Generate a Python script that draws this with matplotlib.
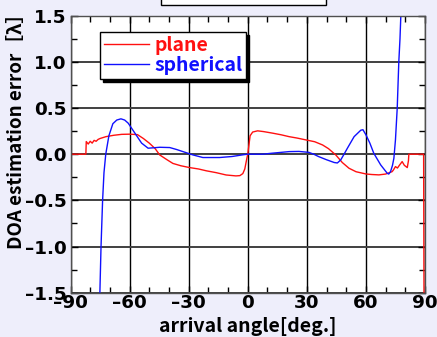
import numpy as np
import matplotlib
matplotlib.use('Agg')
import matplotlib.pyplot as plt
from matplotlib.patches import Rectangle
from matplotlib.ticker import MultipleLocator

plt.rcParams['font.family'] = ['Noto Sans CJK JP', 'DejaVu Sans']
plt.rcParams['font.weight'] = 'bold'

# plane wave model error
plane_deg = [-90, -82.2, -82, -81, -80, -79, -78, -77, -76, -75, -72, -68, -64, -60, -56,
             -53, -50, -47, -44.7, -41, -38, -34, -29.5, -25, -21, -16, -11, -6, -4,
             -2.5, -1.5, -0.5, 0, 1.2, 2.5, 5, 8, 12.6, 17, 21, 25, 29.5, 34, 38,
             41, 44.7, 48, 51.4, 55, 60, 63, 66.6, 70, 73.3, 74, 75, 76, 77, 78.4,
             79.5, 81, 81.6, 81.8, 85, 89.3, 89.5, 90]
plane_err = [0.0, 0.0, 0.137, 0.11, 0.14, 0.12, 0.15, 0.14, 0.16, 0.17, 0.19, 0.205, 0.215,
             0.217, 0.212, 0.17, 0.12, 0.06, -0.008, -0.06, -0.1, -0.125, -0.145, -0.16,
             -0.18, -0.2, -0.225, -0.235, -0.232, -0.21, -0.16, -0.05, 0.0, 0.2, 0.24,
             0.253, 0.245, 0.228, 0.21, 0.19, 0.175, 0.155, 0.135, 0.1, 0.06, -0.008,
             -0.09, -0.152, -0.19, -0.214, -0.22, -0.224, -0.215, -0.189, -0.17, -0.134,
             -0.15, -0.12, -0.08, -0.12, -0.145, -0.07, 0.0, 0.0, 0.0, -1.6, -1.6]

# spherical wave model error
sph_deg = [-75.2, -74.5, -73.7, -73, -72.1, -70.5, -68.5, -66.5, -64.4, -62.5, -60.7,
           -57.3, -53.9, -50.6, -47.5, -44.7, -39.6, -36, -32.9, -27.8, -22.8, -14.3,
           -8, -5.9, -2, 0, 7.6, 12, 16, 21, 26, 31, 33.5, 36, 40, 43.9, 45.5, 47.2,
           48.9, 50.6, 54, 57.4, 58.5, 60, 62, 64, 67.5, 70.8, 71.6, 72.5, 73.5, 74.2,
           75, 75.9, 76.7, 77.3, 77.9]
sph_err = [-1.6, -1.0, -0.5, -0.2, 0.0, 0.2, 0.33, 0.37, 0.383, 0.37, 0.336, 0.228,
           0.12, 0.065, 0.07, 0.075, 0.072, 0.05, 0.028, -0.008, -0.036, -0.036, -0.025,
           -0.018, -0.005, 0.0, 0.0, 0.01, 0.018, 0.028, 0.03, 0.02, 0.0, -0.026, -0.06,
           -0.09, -0.095, -0.062, 0.0, 0.065, 0.19, 0.26, 0.265, 0.21, 0.12, 0.01, -0.116,
           -0.206, -0.215, -0.189, -0.12, -0.044, 0.155, 0.5, 1.0, 1.25, 1.6]

x_ticks = [-90, -60, -30, 0, 30, 60, 90]
y_ticks = [-1.5, -1.0, -0.5, 0.0, 0.5, 1.0, 1.5]

bg = '#eeeefb'
fig = plt.figure(figsize=(4.37, 3.37), dpi=100, facecolor=bg)
ax = fig.add_axes([70.5 / 437, 1 - 292.7 / 337, 354.5 / 437, 277 / 337])
ax.set_facecolor('white')

ax.plot(plane_deg, plane_err, color='#ff1010', lw=1.0, label='plane')
ax.plot(sph_deg, sph_err, color='#1010ff', lw=1.0, label='spherical')

ax.set_xlim(-90, 90)
ax.set_ylim(-1.5, 1.5)
ax.xaxis.set_minor_locator(MultipleLocator(10))
ax.yaxis.set_minor_locator(MultipleLocator(0.25))
ax.set_xticks(x_ticks)
ax.set_xticklabels([f'{v:d}'.replace('-', '\u2013') for v in x_ticks],
                   family='DejaVu Sans', fontweight='bold', fontsize=13.2)
ax.set_yticks(y_ticks)
ax.set_yticklabels([f'{v:.1f}'.replace('-', '\u2013') for v in y_ticks],
                   family='DejaVu Sans', fontweight='bold', fontsize=13.2)
ax.tick_params(which='both', direction='in', top=True, right=True,
               width=1.0, color='black')
ax.tick_params(which='major', length=5)
ax.tick_params(which='minor', length=4)
ax.tick_params(axis='x', pad=1)
ax.tick_params(axis='y', pad=3)

ax.grid(True, axis='x', color='black', lw=1.0)
ax.grid(True, axis='y', color='#404040', lw=1.4)
ax.set_axisbelow(True)
for sp in ax.spines.values():
    sp.set_color('#505050')
    sp.set_linewidth(1.0)

ax.set_xlabel('arrival angle[deg.]', fontsize=14, fontweight='bold', va='top')
ax.xaxis.set_label_coords(0.5, -0.086)
ax.set_ylabel('DOA estimation error［λ］', fontsize=13.5, fontweight='bold', va='center')
ax.yaxis.set_label_coords(-0.153, 0.6)

leg = ax.legend(loc='upper left', bbox_to_anchor=(0.083, 0.94),
                prop={'weight': 'bold', 'size': 14}, frameon=True, fancybox=False,
                shadow={'color': 'black', 'alpha': 1}, framealpha=1, edgecolor='black',
                handlelength=2.3, handletextpad=0.3, borderpad=0.2, labelspacing=0.05,
                borderaxespad=0)
leg.get_frame().set_linewidth(1.0)
leg.get_texts()[0].set_color('#ff1010')
leg.get_texts()[1].set_color('#1010ff')

# box at the top of the figure
fig.patches.append(Rectangle((160.5 / 437, 1 - 4.5 / 337), 165 / 437, 0.05,
                             transform=fig.transFigure, facecolor='white',
                             edgecolor='black', lw=1.0))

fig.savefig('out.png', dpi=100, facecolor=bg)
